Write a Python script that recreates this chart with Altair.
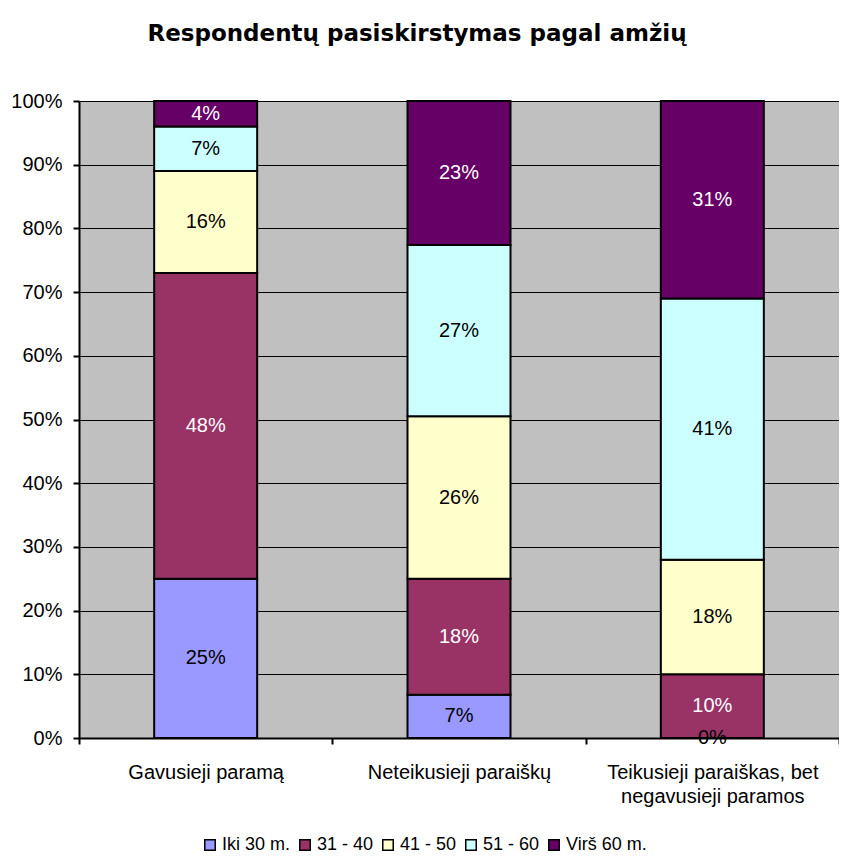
import altair as alt
import pandas as pd

categories = ["Gavusieji paramą", "Neteikusieji paraiškų",
              "Teikusieji paraiškas, bet negavusieji paramos"]
age_groups = ["Iki 30 m.", "31 - 40", "41 - 50", "51 - 60", "Virš 60 m."]
iki30 = [25, 6.8, 0]
g31_40 = [48, 18.2, 10]
g41_50 = [16, 25.5, 18]
g51_60 = [7, 26.9, 41]
virs60 = [4, 22.6, 31]
colors = ["#9999FF", "#993366", "#FFFFCC", "#CCFFFF", "#660066"]

series = [iki30, g31_40, g41_50, g51_60, virs60]
rows = []
for gi, (g, vals) in enumerate(zip(age_groups, series)):
    for ci, c in enumerate(categories):
        rows.append({"category": c, "age": g, "idx": gi, "value": vals[ci]})
df = pd.DataFrame(rows)

FONT = "Liberation Sans"

base = alt.Chart(df).transform_stack(
    stack="value", groupby=["category"], as_=["y0", "y1"],
    sort=[alt.SortField("idx", order="ascending")]
).transform_calculate(
    mid="(datum.y0 + datum.y1) / 2",
    label="round(datum.value) + '%'"
)

xenc = alt.X("category:N", sort=categories, title=None,
             scale=alt.Scale(paddingInner=0, paddingOuter=0),
             axis=alt.Axis(labelAngle=0, labelFontSize=20, labelFont=FONT,
                           labelColor="black", labelPadding=18,
                           labelLineHeight=24, labelBaseline="top",
                           tickBand="extent", tickSize=6, tickWidth=2,
                           tickColor="black", domainColor="black",
                           domainWidth=2, labelLimit=400,
                           labelExpr="datum.label == 'Teikusieji paraiškas, bet negavusieji paramos' ? ['Teikusieji paraiškas, bet', 'negavusieji paramos'] : datum.label"))

bars = base.mark_bar(size=103, stroke="black", strokeWidth=2).encode(
    x=xenc,
    y=alt.Y("y0:Q", title=None,
            scale=alt.Scale(domain=[0, 100], nice=False),
            axis=alt.Axis(values=list(range(0, 101, 10)),
                          labelExpr="datum.value + '%'",
                          labelFontSize=20, labelFont=FONT, labelColor="black",
                          labelPadding=11, tickSize=6, tickWidth=2,
                          tickColor="black", domainColor="black", domainWidth=2,
                          grid=True, gridColor="black", gridWidth=1,
                          gridOpacity=1)),
    y2="y1:Q",
    color=alt.Color("age:N", sort=age_groups,
                    scale=alt.Scale(domain=age_groups, range=colors),
                    legend=alt.Legend(title=None, orient="none",
                                      direction="horizontal",
                                      legendX=122, legendY=735,
                                      symbolType="square", symbolSize=110,
                                      symbolStrokeColor="black",
                                      symbolStrokeWidth=1.5,
                                      labelFontSize=18, labelFont=FONT,
                                      labelColor="black", labelOffset=3,
                                      columnPadding=5)),
    order=alt.Order("idx:Q", sort="ascending"),
)

labels = base.mark_text(fontSize=20, font=FONT).encode(
    x=alt.X("category:N", sort=categories),
    y=alt.Y("mid:Q"),
    text="label:N",
    color=alt.condition(
        alt.FieldOneOfPredicate(field="age", oneOf=["31 - 40", "Virš 60 m."]),
        alt.value("white"), alt.value("black")),
)

chart = alt.layer(bars, labels).properties(
    width=760, height=637,
    background="white",
    title=alt.TitleParams("Respondentų pasiskirstymas pagal amžių",
                          font="DejaVu Sans", fontSize=23, fontWeight="bold",
                          color="black", anchor="middle", dx=-42, offset=45),
    autosize=alt.AutoSizeParams(type="none"),
    padding={"left": 71, "top": 93, "right": 0, "bottom": 115},
).configure_view(fill="#C0C0C0", strokeWidth=0)

chart.save("out.html", embed_options={"renderer": "svg", "actions": False})
